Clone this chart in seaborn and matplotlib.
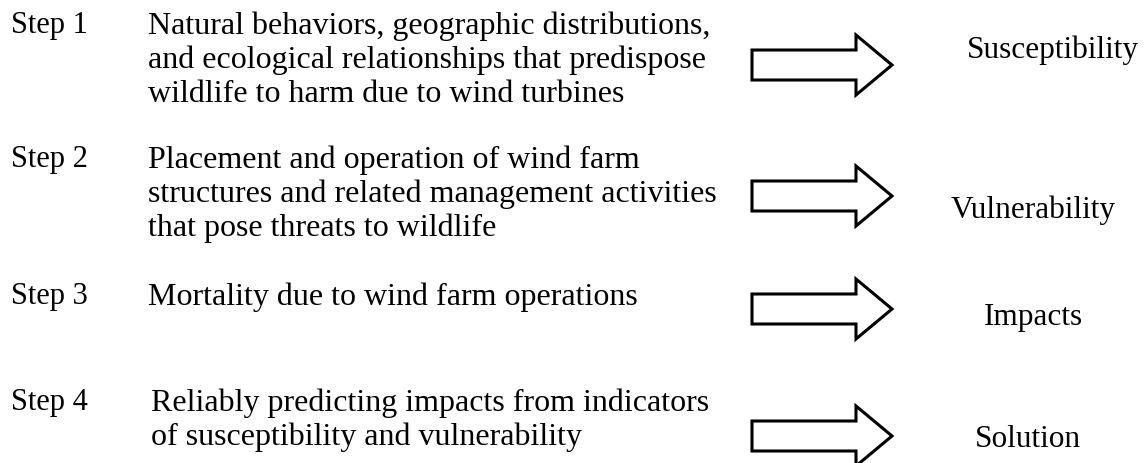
import matplotlib
matplotlib.use("Agg")
import matplotlib.pyplot as plt
import seaborn as sns

sns.set_theme(style="white")
plt.rcParams['font.family'] = ['Liberation Serif', 'DejaVu Serif']

# ---- content ----
step_labels = ["Step 1", "Step 2", "Step 3", "Step 4"]
step_texts = [
    ["Natural behaviors, geographic distributions,",
     "and ecological relationships that predispose",
     "wildlife to harm due to wind turbines"],
    ["Placement and operation of wind farm",
     "structures and related management activities",
     "that pose threats to wildlife"],
    ["Mortality due to wind farm operations"],
    ["Reliably predicting impacts from indicators",
     "of susceptibility and vulnerability"],
]
outcomes = ["Susceptibility", "Vulnerability", "Impacts", "Solution"]

# ---- layout (pixel-like data coordinates) ----
W, H = 1145, 464
step_y = [26, 160, 297, 403]
line_gap = 34
text_x = [148, 148, 148, 151]
label_x = 11
arrow_y = [66, 197, 310, 437]
outcome_y = [50, 210, 318, 440]
outcome_x = [1053, 1033, 1033, 1028]
shaft_x0, head_x0, tip_x = 752, 856, 892
shaft_half, head_half = 15, 30

fig = plt.figure(figsize=(W / 100, H / 100), dpi=100)
ax = fig.add_axes([0, 0, 1, 1])
ax.set_xlim(0, W)
ax.set_ylim(H, 0)
ax.axis("off")

fs_label = 22
fs_text = 23
fs_out = 22.5
for i, lab in enumerate(step_labels):
    ax.text(label_x, step_y[i], lab, fontsize=fs_label, ha="left", va="center", color="black")
    for j, line in enumerate(step_texts[i]):
        ax.text(text_x[i], step_y[i] + j * line_gap, line, fontsize=fs_text,
                ha="left", va="center", color="black")

for i, oc in enumerate(outcomes):
    ax.text(outcome_x[i], outcome_y[i], oc, fontsize=fs_out, ha="center", va="center", color="black")
    cy = arrow_y[i]
    xs = [shaft_x0, head_x0, head_x0, tip_x, head_x0, head_x0, shaft_x0, shaft_x0]
    ys = [cy - shaft_half, cy - shaft_half, cy - head_half, cy, cy + head_half,
          cy + shaft_half, cy + shaft_half, cy - shaft_half]
    ax.fill(xs, ys, facecolor="white", edgecolor="black", linewidth=2.2,
            joinstyle="miter", clip_on=False)

fig.savefig("out.png", dpi=100, facecolor="white")
